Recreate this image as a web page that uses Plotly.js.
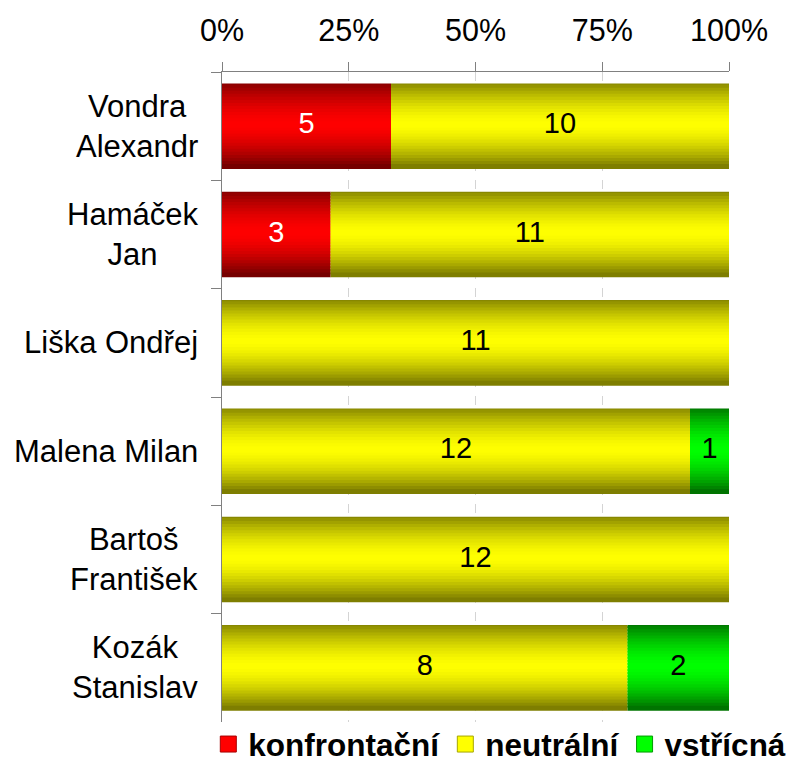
<!DOCTYPE html>
<html><head><meta charset="utf-8">
<script src="https://cdn.plot.ly/plotly-3.0.1.min.js"></script>
<style>html,body{margin:0;padding:0;background:#fff}</style>
</head><body><div id="chart" style="width:787px;height:766px"></div>
<script>
// ---- data ----
const categories = ['Vondra<br>Alexandr', 'Hamáček<br>Jan', 'Liška Ondřej', 'Malena Milan', 'Bartoš<br>František', 'Kozák<br>Stanislav'];
const seriesNames = ['konfrontační', 'neutrální', 'vstřícná'];
const konfrontacni = [5, 3, 0, 0, 0, 0];
const neutralni = [10, 11, 11, 12, 12, 8];
const vstricna = [0, 0, 0, 1, 0, 2];
const xTickVals = [0, 25, 50, 75, 100];
const xTickText = ['0%', '25%', '50%', '75%', '100%'];

// ---- styles ----
const FONT = 'Liberation Sans, Arial, sans-serif';
const seriesStyle = [
  {top: [128, 0, 0], mid: [255, 0, 0], bot: [110, 0, 0], text: '#ffffff'},
  {top: [128, 128, 0], mid: [255, 255, 0], bot: [118, 118, 0], text: '#000000'},
  {top: [0, 112, 0], mid: [0, 255, 0], bot: [0, 108, 0], text: '#000000'}
];
const seriesValues = [konfrontacni, neutralni, vstricna];
const totals = categories.map((c, i) => seriesValues.reduce((s, arr) => s + arr[i], 0));
const pcts = seriesValues.map(arr => arr.map((v, i) => v / totals[i] * 100));
const bases = pcts.map((arr, s) => arr.map((v, i) => {
  let b = 0; for (let j = 0; j < s; j++) b += pcts[j][i]; return b;
}));

const BARW = 0.79;
const N = 28;
function lerp(a, b, f) { return a.map((x, i) => Math.round(x + (b[i] - x) * f)); }
function rgb(c) { return 'rgb(' + c.join(',') + ')'; }

const traces = [];
seriesValues.forEach((arr, s) => {
  const st = seriesStyle[s];
  for (let k = 0; k < N; k++) {
    const t = (k + 0.5) / N;
    const d = Math.abs(2 * t - 1);
    const f = 1 - Math.pow(d, 1.6);
    const col = t < 0.5 ? lerp(st.top, st.mid, f) : lerp(st.bot, st.mid, f);
    const h = BARW / N;
    const eps = k > 0 ? h * 0.6 : 0;
    traces.push({
      type: 'bar', orientation: 'h',
      x: pcts[s], base: bases[s], y: categories,
      offset: -BARW / 2 + k * h - eps, width: h + eps,
      marker: {color: rgb(col), line: {width: 0}},
      name: seriesNames[s], legendgroup: seriesNames[s],
      showlegend: false, hoverinfo: 'skip'
    });
  }
});
// legend entries (square markers)
seriesValues.forEach((arr, s) => {
  traces.push({
    type: 'scatter', mode: 'markers', x: [null], y: [categories[0]],
    marker: {symbol: 'square', size: 16, color: rgb(seriesStyle[s].mid),
             line: {width: 1, color: rgb(lerp(seriesStyle[s].top, seriesStyle[s].mid, 0.3))}},
    name: seriesNames[s], legendgroup: seriesNames[s], showlegend: true, hoverinfo: 'skip'
  });
});
// value labels
seriesValues.forEach((arr, s) => {
  traces.push({
    type: 'scatter', mode: 'text',
    x: pcts[s].map((p, i) => bases[s][i] + p / 2), y: categories,
    text: arr.map(v => v > 0 ? String(v) : ''),
    textposition: 'middle center',
    textfont: {family: FONT, size: 29, color: seriesStyle[s].text},
    cliponaxis: false, showlegend: false, hoverinfo: 'skip'
  });
});

const annotations = categories.map(c => ({
  xref: 'paper', yref: 'y', x: 0, y: c, xanchor: 'right', yanchor: 'middle',
  xshift: -22, text: c, align: 'center', showarrow: false,
  font: {family: FONT, size: 31, color: '#000'}
}));

const layout = {
  width: 787, height: 766,
  margin: {l: 222, r: 58, t: 72, b: 44, autoexpand: false},
  paper_bgcolor: '#fff', plot_bgcolor: '#fff',
  barmode: 'overlay',
  font: {family: FONT, size: 28, color: '#000'},
  xaxis: {
    side: 'top', range: [0, 100], tickmode: 'array', tickvals: xTickVals, ticktext: xTickText,
    ticks: 'outside', ticklen: 9, tickcolor: '#808080', tickwidth: 1,
    showline: true, linecolor: '#808080', linewidth: 1,
    showgrid: true, gridcolor: '#d4d4d4', griddash: 'dash', gridwidth: 1,
    zeroline: false, tickfont: {family: FONT, size: 30.5, color: '#000'},
    ticklabelstandoff: 9, fixedrange: true
  },
  xaxis2: {
    overlaying: 'x', side: 'top', anchor: 'y', range: [0, 100], tickmode: 'array', tickvals: xTickVals,
    ticks: 'inside', ticklen: 8, tickcolor: '#808080', showticklabels: false,
    showgrid: false, showline: false, zeroline: false
  },
  yaxis: {
    type: 'category', categoryorder: 'array', categoryarray: categories,
    range: [5.5, -0.5], showticklabels: false,
    ticks: 'outside', tickson: 'boundaries', ticklen: 10, tickcolor: '#808080',
    showline: true, linecolor: '#808080', linewidth: 1, showgrid: false, zeroline: false
  },
  legend: {
    orientation: 'h', x: -0.027, xanchor: 'left', y: -0.0755, yanchor: 'bottom',
    font: {family: FONT, size: 31.5, color: '#000', weight: 'bold'},
    traceorder: 'normal', itemwidth: 30, bgcolor: 'rgba(0,0,0,0)'
  },
  annotations: annotations,
  showlegend: true
};

Plotly.newPlot('chart', traces, layout, {staticPlot: true, displayModeBar: false});
</script></body></html>
